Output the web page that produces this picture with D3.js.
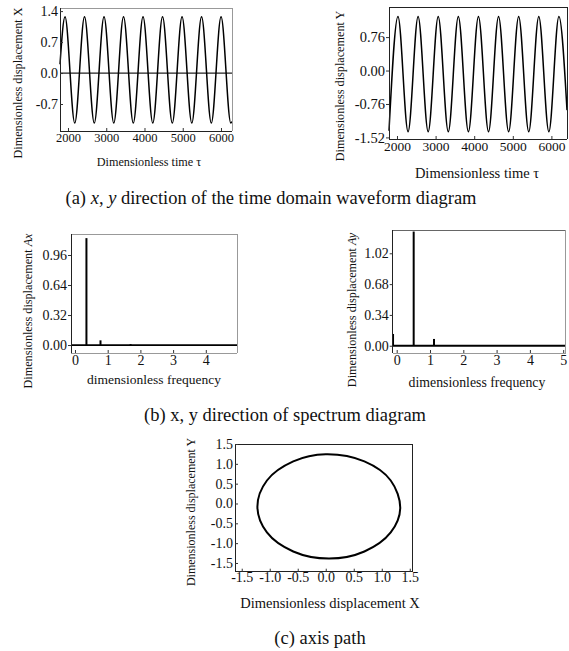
<!DOCTYPE html>
<html><head><meta charset="utf-8">
<script src="https://cdn.jsdelivr.net/npm/d3@7"></script>
<style>
body{margin:0;background:#fff;}
svg{display:block;font-family:"Liberation Serif","Times New Roman",serif;}
</style></head><body>
<svg id="c" width="569" height="651"></svg>
<script>
// ---------- (a) time-domain waveforms ----------
const timeX = [1791, 1922, 2177, 2432, 2687, 2942, 3197, 3452, 3707, 3962, 4217, 4472, 4727, 4982, 5237, 5492, 5747, 6002, 6257, 6288];
const dispX = [0.20, 1.27, -1.13, 1.27, -1.13, 1.27, -1.13, 1.27, -1.13, 1.27, -1.13, 1.27, -1.13, 1.27, -1.13, 1.27, -1.13, 1.27, -1.13, -1.10];
const timeY = [1793, 2026, 2287, 2547, 2808, 3068, 3329, 3589, 3850, 4110, 4371, 4631, 4892, 5152, 5413, 5673, 5934, 6194, 6404];
const dispY = [-1.37, 1.23, -1.39, 1.23, -1.39, 1.23, -1.39, 1.23, -1.39, 1.23, -1.39, 1.23, -1.39, 1.23, -1.39, 1.23, -1.39, 1.23, -0.90];
const timeTicks = [2000, 3000, 4000, 5000, 6000];
const xTicksA = [1.4, 0.7, 0.0, -0.7];
const yTicksA = [0.76, 0.00, -0.76, -1.52];

// ---------- (b) spectra ----------
const freqAx = [0.35, 0.78, 1.70];
const ampAx  = [1.14, 0.05, 0.01];
const freqAy = [-0.11, 0.51, 1.12];
const ampAy  = [0.13, 1.26, 0.075];
const ticksAx = [0.00, 0.32, 0.64, 0.96];
const ticksAy = [0.00, 0.34, 0.68, 1.02];
const freqTicksX = [0, 1, 2, 3, 4];
const freqTicksY = [0, 1, 2, 3, 4, 5];

// ---------- (c) axis path (orbit) ----------
const orbitX = [1.33, 1.16, 0.69, 0.00, -0.58, -1.05, -1.22, -1.05, -0.58, 0.06, 0.69, 1.16];
const orbitY = [-0.12, 0.58, 1.06, 1.24, 1.06, 0.58, -0.08, -0.73, -1.21, -1.39, -1.21, -0.73];
const orbitTicks = [-1.5, -1.0, -0.5, 0.0, 0.5, 1.0, 1.5];

const svg = d3.select("#c");

function frame(box, cols) {
  const g = svg.append("g");
  const [l, t, r, b] = [box.left, box.top, box.right, box.bottom];
  const seg = (x1, y1, x2, y2, c) => g.append("line").attr("x1", x1).attr("y1", y1).attr("x2", x2).attr("y2", y2)
    .attr("stroke", c).attr("stroke-width", 1).attr("shape-rendering", "crispEdges");
  seg(l, t, r, t, cols.top);
  seg(r, t, r, b, cols.right);
  seg(l, b, r, b, cols.bottom);
  seg(l, t, l, b, cols.left);
}

function axes(box, x, y, o) {
  const gx = svg.append("g").attr("transform", `translate(0,${box.bottom})`)
    .call(d3.axisBottom(x).tickValues(o.xTicks).tickFormat(o.xFmt).tickSize(o.xTickSize).tickPadding(o.xPad));
  gx.select(".domain").remove();
  gx.selectAll("text").attr("font-size", o.xFont).attr("fill", "#111").attr("font-family", "Liberation Serif");
  gx.selectAll("line").attr("stroke", "#333");
  const gy = svg.append("g").attr("transform", `translate(${box.left},0)`)
    .call(d3.axisLeft(y).tickValues(o.yTicks).tickFormat(o.yFmt).tickSize(o.yTickSize).tickPadding(o.yPad));
  gy.select(".domain").remove();
  gy.selectAll("text").attr("font-size", o.yFont).attr("fill", "#111").attr("font-family", "Liberation Serif");
  gy.selectAll("line").attr("stroke", "#333");
}

function vtitle(x, y, parts, size) {
  const t = svg.append("text").attr("transform", `translate(${x},${y}) rotate(-90)`)
    .attr("text-anchor", "middle").attr("dy", "0.35em").attr("font-size", size).attr("fill", "#111");
  parts.forEach(p => t.append("tspan").text(p[0]).attr("font-style", p[1] ? "italic" : "normal"));
}
function htitle(x, y, parts, size) {
  const t = svg.append("text").attr("x", x).attr("y", y).attr("text-anchor", "middle")
    .attr("dy", "0.35em").attr("font-size", size).attr("fill", "#111");
  parts.forEach(p => t.append("tspan").text(p[0]).attr("font-style", p[1] ? "italic" : "normal"));
}

// ===== Panel 1: X waveform =====
{
  const box = {left: 60, right: 232, top: 8, bottom: 131};
  const x = d3.scaleLinear().domain([1791, 6288]).range([box.left, box.right]);
  const y = d3.scaleLinear().domain([-1.31, 1.47]).range([box.bottom, box.top]);
  svg.append("line").attr("x1", box.left).attr("x2", box.right).attr("y1", y(0)).attr("y2", y(0))
    .attr("stroke", "#222").attr("stroke-width", 1.3);
  const line = d3.line().x((d, i) => x(timeX[i])).y(d => y(d)).curve(d3.curveMonotoneX);
  svg.append("path").attr("d", line(dispX)).attr("fill", "none").attr("stroke", "#000").attr("stroke-width", 1.5);
  frame(box, {top: "#999", right: "#999", bottom: "#222", left: "#222"});
  axes(box, x, y, {xTicks: timeTicks, xFmt: d3.format("d"), xTickSize: -3, xPad: 2, xFont: 12.5,
    yTicks: xTicksA, yFmt: d => d.toFixed(1), yTickSize: -3, yPad: 2, yFont: 14});
  vtitle(18, 83, [["Dimensionless displacement X", false]], 12.2);
  htitle(149, 162, [["Dimensionless time τ", false]], 12.2);
}

// ===== Panel 2: Y waveform =====
{
  const box = {left: 389, right: 567, top: 7, bottom: 139};
  const x = d3.scaleLinear().domain([1793, 6404]).range([box.left, box.right]);
  const y = d3.scaleLinear().domain([-1.556, 1.444]).range([box.bottom, box.top]);
  const line = d3.line().x((d, i) => x(timeY[i])).y(d => y(d)).curve(d3.curveMonotoneX);
  svg.append("path").attr("d", line(dispY)).attr("fill", "none").attr("stroke", "#000").attr("stroke-width", 1.5);
  frame(box, {top: "#222", right: "#222", bottom: "#222", left: "#222"});
  axes(box, x, y, {xTicks: timeTicks, xFmt: d3.format("d"), xTickSize: -3, xPad: 2.5, xFont: 13.5,
    yTicks: yTicksA, yFmt: d => d.toFixed(2), yTickSize: 3, yPad: 1, yFont: 14.5});
  vtitle(340, 86, [["Dimensionless displacement Y", false]], 12.2);
  htitle(477, 173, [["Dimensionless time τ", false]], 14.5);
}

// ===== Panel 3: spectrum Ax =====
{
  const box = {left: 71, right: 237, top: 234, bottom: 353};
  const x = d3.scaleLinear().domain([-0.122, 4.954]).range([box.left, box.right]);
  const y = d3.scaleLinear().domain([-0.085, 1.184]).range([box.bottom, box.top]);
  svg.append("line").attr("x1", box.left).attr("x2", box.right).attr("y1", y(0)).attr("y2", y(0))
    .attr("stroke", "#000").attr("stroke-width", 1.8);
  svg.append("g").selectAll("line").data(ampAx).join("line")
    .attr("x1", (d, i) => x(freqAx[i])).attr("x2", (d, i) => x(freqAx[i]))
    .attr("y1", y(0)).attr("y2", d => y(d)).attr("stroke", "#000").attr("stroke-width", 2);
  frame(box, {top: "#999", right: "#999", bottom: "#999", left: "#222"});
  axes(box, x, y, {xTicks: freqTicksX, xFmt: d3.format("d"), xTickSize: -3, xPad: 2.5, xFont: 14,
    yTicks: ticksAx, yFmt: d => d.toFixed(2), yTickSize: 3, yPad: 1, yFont: 14});
  vtitle(28, 311, [["Dimensionless displacement ", false], ["Ax", true]], 12.2);
  htitle(154, 379, [["dimensionless frequency", false]], 13.5);
}

// ===== Panel 4: spectrum Ay =====
{
  const box = {left: 392.7, right: 565.7, top: 230, bottom: 353};
  const x = d3.scaleLinear().domain([-0.12, 5.075]).range([box.left, box.right]);
  const y = d3.scaleLinear().domain([-0.08, 1.277]).range([box.bottom, box.top]);
  svg.append("line").attr("x1", box.left).attr("x2", box.right).attr("y1", y(0)).attr("y2", y(0))
    .attr("stroke", "#000").attr("stroke-width", 1.8);
  svg.append("g").selectAll("line").data(ampAy).join("line")
    .attr("x1", (d, i) => x(freqAy[i])).attr("x2", (d, i) => x(freqAy[i]))
    .attr("y1", y(0)).attr("y2", d => y(d)).attr("stroke", "#000").attr("stroke-width", 2);
  frame(box, {top: "#666", right: "#999", bottom: "#999", left: "#222"});
  axes(box, x, y, {xTicks: freqTicksY, xFmt: d3.format("d"), xTickSize: -3, xPad: 2.5, xFont: 14,
    yTicks: ticksAy, yFmt: d => d.toFixed(2), yTickSize: 3, yPad: 1, yFont: 14});
  vtitle(352, 310, [["Dimensionless displacement ", false], ["Ay", true]], 12.2);
  htitle(477, 382, [["dimensionless frequency", false]], 13.8);
}

// ===== Panel 5: axis orbit =====
{
  const box = {left: 235, right: 412, top: 444, bottom: 571.7};
  const x = d3.scaleLinear().domain([-1.62, 1.54]).range([box.left, box.right]);
  const y = d3.scaleLinear().domain([-1.72, 1.5]).range([box.bottom, box.top]);
  const line = d3.line().x((d, i) => x(orbitX[i])).y(d => y(d)).curve(d3.curveCatmullRomClosed.alpha(0.5));
  svg.append("path").attr("d", line(orbitY)).attr("fill", "none").attr("stroke", "#000").attr("stroke-width", 2);
  frame(box, {top: "#222", right: "#222", bottom: "#222", left: "#222"});
  axes(box, x, y, {xTicks: orbitTicks, xFmt: d => d.toFixed(1), xTickSize: -3, xPad: 0, xFont: 14,
    yTicks: orbitTicks, yFmt: d => d.toFixed(1), yTickSize: -3, yPad: 2, yFont: 14});
  vtitle(191, 512, [["Dimensionless displacement Y", false]], 12);
  htitle(330, 603, [["Dimensionless displacement X", false]], 14.5);
}

// ===== Captions =====
htitle(271, 198, [["(a) ", false], ["x", true], [", ", false], ["y", true], [" direction of the time domain waveform diagram", false]], 18.5);
htitle(285, 415, [["(b) x, y direction of spectrum diagram", false]], 18.5);
htitle(320, 638, [["(c) axis path", false]], 18.5);
</script>
</body></html>
